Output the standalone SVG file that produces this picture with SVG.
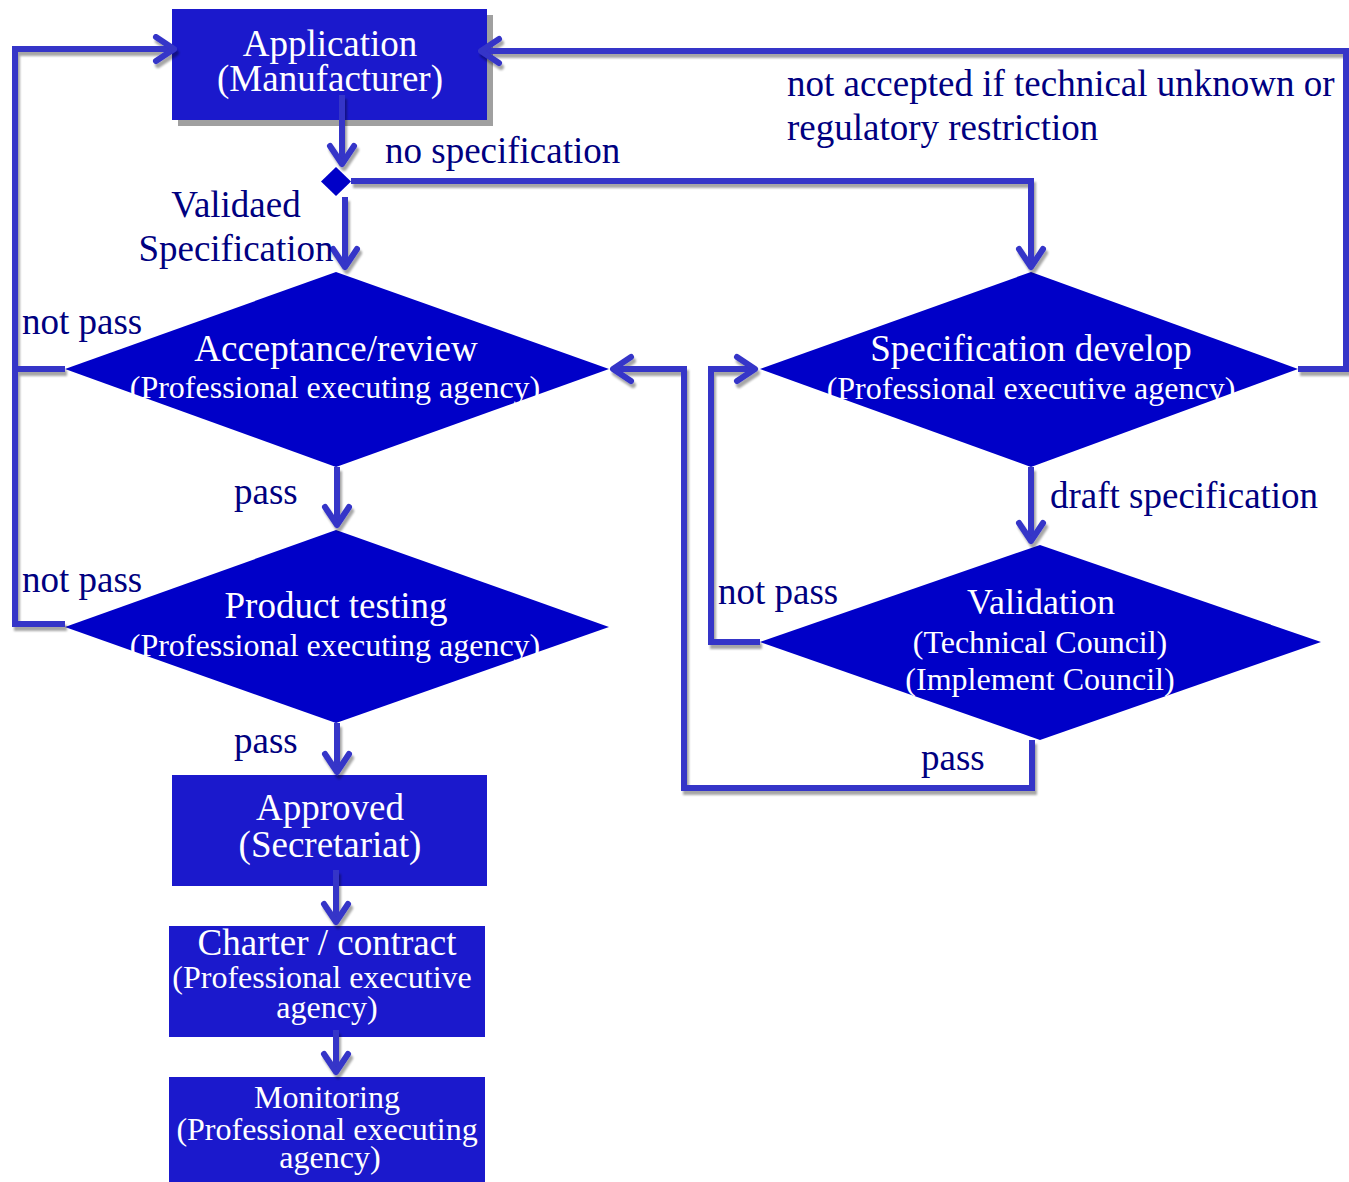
<svg xmlns="http://www.w3.org/2000/svg" width="1349" height="1182" viewBox="0 0 1349 1182">
<style>
.box{fill:#1b19cc}
.dia{fill:#0000c8}
.nt{fill:#ffffff;font-family:"Liberation Serif","Times New Roman",serif;font-size:37px;text-anchor:middle}
.ns{fill:#ffffff;font-family:"Liberation Serif","Times New Roman",serif;font-size:32px;text-anchor:middle}
.lb{fill:#000080;font-family:"Liberation Serif","Times New Roman",serif;font-size:37px}
.cn{fill:none;stroke:#3634c8;stroke-width:6;stroke-linejoin:miter}
</style>
<defs>
<filter id="sh" x="-5%" y="-5%" width="110%" height="110%">
<feDropShadow dx="2" dy="4" stdDeviation="1" flood-color="#000" flood-opacity="0.35"/>
</filter>
<marker id="ah" markerUnits="userSpaceOnUse" markerWidth="40" markerHeight="40" viewBox="-30 -20 40 40" refX="0" refY="0" orient="auto" overflow="visible">
<path d="M-18,-12 L0,0 L-18,12" fill="none" stroke="#3634c8" stroke-width="6" stroke-linecap="round" stroke-linejoin="round"/>
</marker>
</defs>
<rect width="1349" height="1182" fill="#ffffff"/>

<g id="application">
<rect x="178" y="15" width="315" height="111" fill="#a0a0a0"/>
<rect class="box" x="172" y="9" width="315" height="111"/>
<text class="nt" x="330" y="56">Application</text>
<text class="nt" x="330" y="91">(Manufacturer)</text>
</g>

<g id="decision">
<polygon class="dia" points="336,167 351,181.5 336,196 321,181.5"/>
</g>

<g id="acceptance">
<polygon class="dia" points="336,272 609,369 336,467 65,369"/>
<text class="nt" x="336" y="361">Acceptance/review</text>
<text class="ns" x="335" y="398">(Professional executing agency)</text>
</g>

<g id="testing">
<polygon class="dia" points="336,530 609,627 336,723 65,627"/>
<text class="nt" x="336" y="618">Product testing</text>
<text class="ns" x="335" y="656">(Professional executing agency)</text>
</g>

<g id="approved">
<rect class="box" x="172" y="775" width="315" height="111"/>
<text class="nt" x="330" y="820">Approved</text>
<text class="nt" x="330" y="857">(Secretariat)</text>
</g>

<g id="charter">
<rect class="box" x="169" y="926" width="316" height="111"/>
<text class="nt" x="327" y="955">Charter / contract</text>
<text class="ns" x="322" y="988">(Professional executive</text>
<text class="ns" x="327" y="1018">agency)</text>
</g>

<g id="monitoring">
<rect class="box" x="169" y="1077" width="316" height="105"/>
<text class="ns" x="327" y="1108">Monitoring</text>
<text class="ns" x="327" y="1140">(Professional executing</text>
<text class="ns" x="330" y="1168">agency)</text>
</g>

<g id="specdevelop">
<polygon class="dia" points="1031,272 1298,369 1031,467 760,369"/>
<text class="nt" x="1031" y="361">Specification develop</text>
<text class="ns" x="1031" y="399">(Professional executive agency)</text>
</g>

<g id="validation">
<polygon class="dia" points="1040,545 1321,642 1040,740 760,642"/>
<text class="nt" x="1041" y="614" style="font-size:36px">Validation</text>
<text class="ns" x="1040" y="653">(Technical Council)</text>
<text class="ns" x="1040" y="690">(Implement Council)</text>
</g>

<g id="connectors" filter="url(#sh)">
<path class="cn" d="M342,95 L342,164" marker-end="url(#ah)"/>
<path class="cn" d="M345,197 L345,267" marker-end="url(#ah)"/>
<path class="cn" d="M351,181 L1031,181 L1031,267" marker-end="url(#ah)"/>
<path class="cn" d="M337,467 L337,525" marker-end="url(#ah)"/>
<path class="cn" d="M337,723 L337,772" marker-end="url(#ah)"/>
<path class="cn" d="M336,870 L336,922" marker-end="url(#ah)"/>
<path class="cn" d="M336,1030 L336,1072" marker-end="url(#ah)"/>
<path class="cn" d="M65,369 L15,369 L15,49 L174,49" marker-end="url(#ah)"/>
<path class="cn" d="M65,624 L15,624 L15,369"/>
<path class="cn" d="M1298,369 L1346,369 L1346,51 L481,51" marker-end="url(#ah)"/>
<path class="cn" d="M1031,467 L1031,541" marker-end="url(#ah)"/>
<path class="cn" d="M760,642 L711,642 L711,369 L755,369" marker-end="url(#ah)"/>
<path class="cn" d="M1032,740 L1032,788 L684,788 L684,369 L613,369" marker-end="url(#ah)"/>
</g>

<g id="labels">
<text class="lb" x="385" y="163">no specification</text>
<text class="lb" x="236" y="217" text-anchor="middle">Validaed</text>
<text class="lb" x="236" y="261" text-anchor="middle">Specification</text>
<text class="lb" x="787" y="96">not accepted if technical unknown or</text>
<text class="lb" x="787" y="140">regulatory restriction</text>
<text class="lb" x="22" y="334">not pass</text>
<text class="lb" x="234" y="504">pass</text>
<text class="lb" x="22" y="592">not pass</text>
<text class="lb" x="234" y="753">pass</text>
<text class="lb" x="1050" y="508">draft specification</text>
<text class="lb" x="718" y="604">not pass</text>
<text class="lb" x="921" y="770">pass</text>
</g>
</svg>
